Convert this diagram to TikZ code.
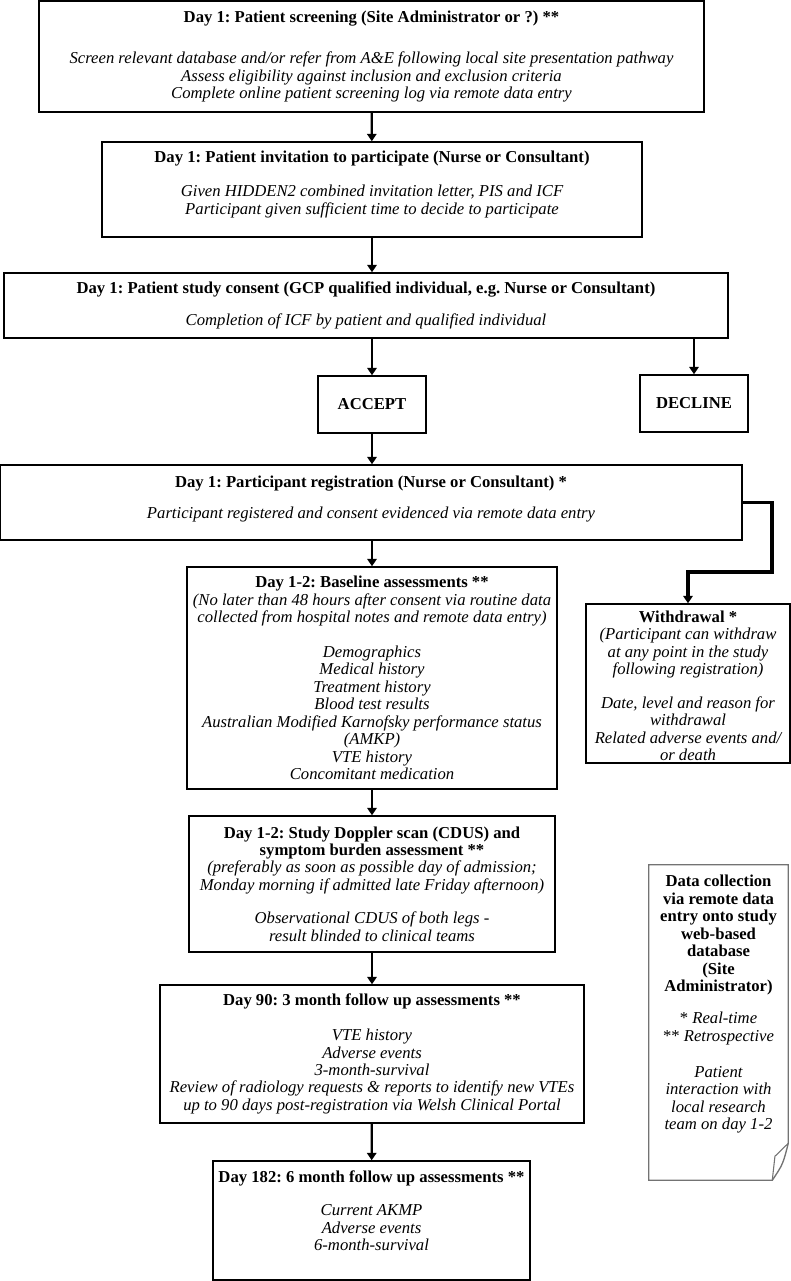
\documentclass[tikz,border=0pt]{standalone}
\usepackage{fontspec}
\setmainfont{Liberation Serif}
\usetikzlibrary{arrows.meta}

\newcommand{\hd}[1]{{\upshape\bfseries #1}}

\begin{document}
\frenchspacing
\begin{tikzpicture}[x=0.75pt, y=-0.75pt,
    flowbox/.style={rectangle, draw=black, line width=1.1pt, align=center, inner sep=1pt, font=\fontsize{12.5}{13.1}\selectfont\itshape},
    choicebox/.style={rectangle, draw=black, line width=1.1pt, minimum width=81pt, minimum height=42.75pt, font=\fontsize{12.5}{13.1}\selectfont\bfseries},
    notebox/.style={rectangle, draw=none, align=center, inner sep=1pt, font=\fontsize{12.5}{13.1}\selectfont\itshape},
    flowarrow/.style={-{Triangle[length=5.5pt, width=7pt]}, line width=1.6pt},
    withdrawarrow/.style={-{Triangle[length=5.5pt, width=7pt]}, line width=2.8pt},
    ]
    \useasboundingbox (0,0) rectangle (791,1281);

    %Nodes
    \node[flowbox, minimum width=498.75pt, minimum height=83.25pt] (screening) at (371.5,56.5)
      {\hd{Day 1: Patient screening (Site Administrator or ?) **}\\[18pt]
       Screen relevant database and/or refer from A\&E following local site presentation pathway\\
       Assess eligibility against inclusion and exclusion criteria\\
       Complete online patient screening log via remote data entry};
    \node[flowbox, minimum width=405pt, minimum height=71.25pt] (invitation) at (372,189.5)
      {\hd{Day 1: Patient invitation to participate (Nurse or Consultant)}\\[13pt]
       Given HIDDEN2 combined invitation letter, PIS and ICF\\
       Participant given sufficient time to decide to participate\\[-2.6pt]\mbox{}};
    \node[flowbox, minimum width=543pt, minimum height=48.75pt] (consent) at (366,305.5)
      {\hd{Day 1: Patient study consent (GCP qualified individual, e.g. Nurse or Consultant)}\\[11pt]
       Completion of ICF by patient and qualified individual};
    \node[choicebox] (accept) at (372,404.5) {ACCEPT};
    \node[choicebox] (decline) at (694,403.5) {DECLINE};
    \node[flowbox, minimum width=556.5pt, minimum height=56.25pt] (registration) at (371,502.5)
      {\hd{Day 1: Participant registration (Nurse or Consultant) *}\\[10pt]
       Participant registered and consent evidenced via remote data entry\\[-5.6pt]\mbox{}};
    \node[flowbox, minimum width=277.5pt, minimum height=166.5pt] (baseline) at (372,678)
      {\hd{Day 1-2: Baseline assessments **}\\
       (No later than 48 hours after consent via routine data\\
       collected from hospital notes and remote data entry)\\[13pt]
       Demographics\\ Medical history\\ Treatment history\\ Blood test results\\
       Australian Modified Karnofsky performance status\\ (AMKP)\\
       VTE history\\ Concomitant medication};
    \node[flowbox, inner sep=0pt, minimum width=153pt, minimum height=119.25pt] (withdrawal) at (688,683.5)
      {\hd{\rule{0pt}{12pt}Withdrawal *}\\
       (Participant can withdraw\\ at any point in the study\\ following registration)\\[12pt]
       Date, level and reason for\\ withdrawal\\
       Related adverse events and/\\ or death};
    \node[flowbox, minimum width=274.5pt, minimum height=102pt] (doppler) at (372,884)
      {\hd{Day 1-2: Study Doppler scan (CDUS) and}\\
       \hd{symptom burden assessment **}\\
       (preferably as soon as possible day of admission;\\
       Monday morning if admitted late Friday afternoon)\\[12pt]
       Observational CDUS of both legs -\\ result blinded to clinical teams};
    \node[flowbox, minimum width=318pt, minimum height=103.5pt] (followthree) at (372,1054)
      {\hd{Day 90: 3 month follow up assessments **}\\[13pt]
       VTE history\\ Adverse events\\ 3-month-survival\\
       Review of radiology requests \& reports to identify new VTEs\\
       up to 90 days post-registration via Welsh Clinical Portal};
    \node[flowbox, minimum width=237.75pt, minimum height=89.25pt] (followsix) at (371.5,1220.5)
      {\hd{Day 182: 6 month follow up assessments **}\\[12pt]
       Current AKMP\\ Adverse events\\ 6-month-survival\\[1.9pt]\mbox{}};
    \node[notebox, minimum width=104.25pt, minimum height=236.25pt] (datanote) at (718.5,1022.5)
      {\hd{Data collection}\\ \hd{via remote data}\\ \hd{entry onto study}\\ \hd{web-based}\\
       \hd{database}\\ \hd{(Site}\\ \hd{Administrator)}\\[11pt]
       \textup{*} Real-time\\ \textup{**} Retrospective\\[14pt]
       Patient\\ interaction with\\ local research\\ team on day 1-2\\[16.9pt]\mbox{}};

    %Note outline with curled corner
    \draw[black!55, line width=1pt] (datanote.north west) -- (datanote.north east)
      -- ([yshift=27.75pt]datanote.south east)
      .. controls ([xshift=-4pt,yshift=12pt]datanote.south east) .. ([xshift=-12pt]datanote.south east)
      -- (datanote.south west) -- cycle;
    \draw[black!55, line width=0.8pt] ([yshift=27.75pt]datanote.south east)
      -- ([xshift=-10pt,yshift=18pt]datanote.south east) -- ([xshift=-12pt]datanote.south east);

    %Lines
    \draw[flowarrow] (screening) -- (invitation);
    \draw[flowarrow] (invitation) -- (consent.north -| invitation);
    \draw[flowarrow] (consent.south -| accept) -- (accept);
    \draw[flowarrow] (consent.south -| decline) -- (decline);
    \draw[flowarrow] (accept) -- (registration.north -| accept);
    \draw[flowarrow] (registration.south -| baseline) -- (baseline);
    \draw[flowarrow] (baseline) -- (doppler);
    \draw[flowarrow] (doppler) -- (followthree);
    \draw[flowarrow] (followthree) -- (followsix);
    \coordinate (withdrawturn) at (772,572);
    \draw[withdrawarrow] (registration.east) -| (withdrawturn) -| (withdrawal.north);
\end{tikzpicture}
\end{document}
